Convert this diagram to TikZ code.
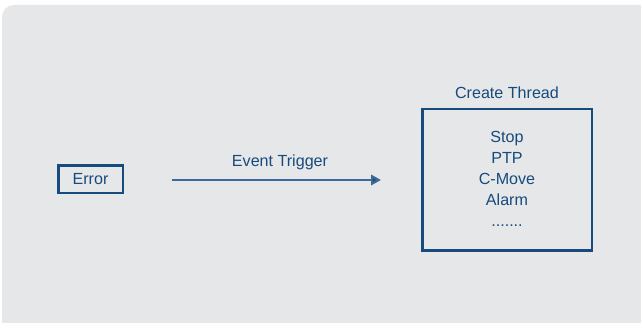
\documentclass[tikz,border=0pt]{standalone}
\usepackage{fontspec}
\setmainfont{Liberation Sans}
\usetikzlibrary{arrows.meta}
\definecolor{bg}{HTML}{E6E7E9}
\definecolor{navy}{HTML}{174A7D}
\definecolor{arrowblue}{HTML}{3C6A98}
\tikzset{
  box/.style={draw=navy, line width=2.8pt, inner sep=0pt},
  lbl/.style={text=navy, font=\fontsize{16.1pt}{19pt}\selectfont, inner sep=0pt},
  conn/.style={draw=arrowblue, line width=2.2pt, -{Triangle[length=10pt,width=10.5pt,fill=navy]}}
}
\begin{document}
\begin{tikzpicture}[x=1pt,y=-1pt]
\useasboundingbox (0,0) rectangle (641,323);
\fill[white] (0,0) rectangle (641,323);
\fill[bg, rounded corners=12pt] (2,5) rectangle (660,340);
\node[box, minimum width=64.8pt, minimum height=27.5pt] (err) at (90.5,179.2) {};
\node[lbl, anchor=base] at (90.5,185) {Error};
\node[box, minimum width=169.8pt, minimum height=141.8pt] (thr) at (507,180) {};
\node[lbl, anchor=base] (title) at (507,98.3) {Create Thread};
\node[lbl, anchor=base] (l1) at (507,142.5) {Stop};
\node[lbl, anchor=base] (l2) at (507,163.5) {PTP};
\node[lbl, anchor=base] (l3) at (507,184.5) {C-Move};
\node[lbl, anchor=base] (l4) at (507,206) {Alarm};
\node[lbl, anchor=base] (l5) at (507,226.7) {.......};
\coordinate (a1) at (171.7,180);
\coordinate (a2) at (381,180);
\draw[conn] (a1) -- (a2);
\node[lbl, anchor=base] (evt) at (280,166.7) {Event Trigger};
\end{tikzpicture}
\end{document}
